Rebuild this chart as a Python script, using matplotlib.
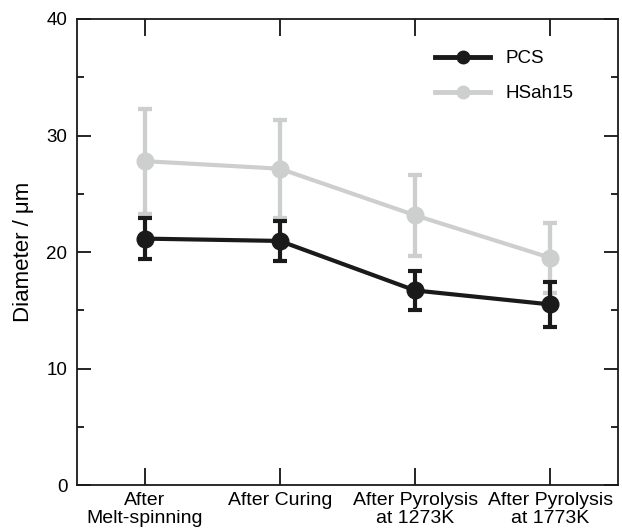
import matplotlib
matplotlib.use("Agg")
import matplotlib.pyplot as plt
from matplotlib.ticker import MultipleLocator
from matplotlib.lines import Line2D

categories = ["After\nMelt-spinning", "After Curing", "After Pyrolysis\nat 1273K", "After Pyrolysis\nat 1773K"]
pcs_mean = [21.15, 20.95, 16.7, 15.5]
pcs_err = [1.75, 1.75, 1.65, 1.9]
hsah_mean = [27.8, 27.15, 23.15, 19.5]
hsah_err = [4.5, 4.2, 3.5, 3.0]
series_names = ["PCS", "HSah15"]

plt.rcParams['font.family'] = ['Liberation Sans', 'DejaVu Sans']

fig = plt.figure(figsize=(6.22, 5.32), dpi=100)
ax = fig.add_axes([0.1238, 0.0883, 0.8698, 0.876])

x = list(range(len(categories)))
black = '#1a1a1a'
gray = '#cdcfcf'

ax.errorbar(x, pcs_mean, yerr=pcs_err, color=black, lw=3, marker='o', ms=12,
            capsize=4.7, capthick=3, elinewidth=3, zorder=3)
ax.errorbar(x, hsah_mean, yerr=hsah_err, color=gray, lw=3, marker='o', ms=12,
            capsize=4.7, capthick=3, elinewidth=3, zorder=2)
# gray error bars drawn over black ones (as in reference)
ax.errorbar(x, hsah_mean, yerr=hsah_err, color=gray, lw=0, marker='none',
            capsize=4.7, capthick=3, elinewidth=3, zorder=2.5)

ax.set_xlim(-0.5, 3.5)
ax.set_ylim(0, 40)
ax.set_xticks(x)
ax.set_xticklabels(categories, fontsize=14, linespacing=1.1)
ax.yaxis.set_major_locator(MultipleLocator(10))
ax.yaxis.set_minor_locator(MultipleLocator(5))
ax.tick_params(axis='y', which='major', direction='in', length=10, width=1.2,
               right=True, labelsize=13.5, pad=7)
ax.tick_params(axis='y', which='minor', direction='in', length=5, width=1.2, right=True)
ax.tick_params(axis='x', which='major', direction='in', length=12, width=1.2,
               top=True, labelsize=14, pad=5)
for s in ax.spines.values():
    s.set_linewidth(1.3)
    s.set_color(black)

ax.set_ylabel("Diameter / μm", fontsize=16, labelpad=9)

handles = [Line2D([], [], color=black, lw=3.5, marker='o', ms=9),
           Line2D([], [], color=gray, lw=3.5, marker='o', ms=9)]
leg = fig.legend(handles, series_names, loc='upper left', frameon=False, fontsize=13.5,
                 handlelength=2.95, handletextpad=0.8, labelspacing=0.95,
                 borderpad=0, borderaxespad=0,
                 bbox_to_anchor=(435 / 622, 1 - 50 / 532))

fig.savefig("out.png", dpi=100)
